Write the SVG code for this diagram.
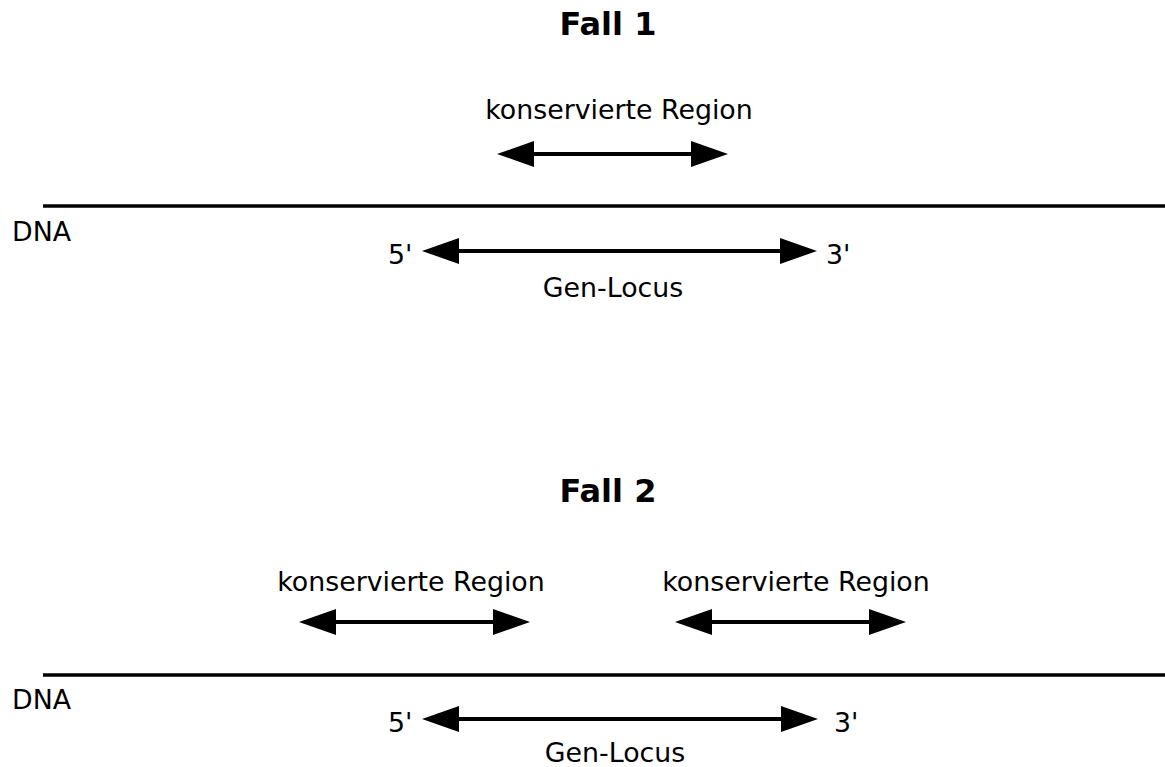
<svg xmlns="http://www.w3.org/2000/svg" width="1165" height="767" viewBox="0 0 1165 767">
<style>
text{font-family:"DejaVu Sans",sans-serif;font-size:26.8px;fill:#000}
.title{font-weight:bold;font-size:32px}
.dna{stroke:#000;stroke-width:3.5}
.arr{stroke:#000;stroke-width:4;fill:none;marker-start:url(#ah);marker-end:url(#ah)}
</style>
<defs>
<marker id="ah" markerUnits="userSpaceOnUse" markerWidth="38" markerHeight="28" refX="17" refY="13" orient="auto-start-reverse" viewBox="0 0 38 26">
<path d="M0,0 L37,13 L0,26 z" fill="#000"/>
</marker>
</defs>
<rect width="1165" height="767" fill="#fff"/>
<g id="case1">
<text class="title" x="608" y="35" text-anchor="middle">Fall 1</text>
<g id="dna1"><line class="dna" x1="43" y1="206" x2="1165" y2="206"/><text x="12" y="241">DNA</text></g>
<g id="region1"><text x="619" y="119" text-anchor="middle">konservierte Region</text></g>
<g id="locus1"><text x="388" y="264">5'</text><text x="826" y="264">3'</text><text x="613" y="297" text-anchor="middle">Gen-Locus</text></g>
</g>
<g id="case2">
<text class="title" x="608" y="502" text-anchor="middle">Fall 2</text>
<g id="dna2"><line class="dna" x1="43" y1="675" x2="1165" y2="675"/><text x="12" y="709">DNA</text></g>
<g id="region2a"><text x="411" y="591" text-anchor="middle">konservierte Region</text></g>
<g id="region2b"><text x="796" y="591" text-anchor="middle">konservierte Region</text></g>
<g id="locus2"><text x="388" y="732">5'</text><text x="834" y="732">3'</text><text x="615" y="762" text-anchor="middle">Gen-Locus</text></g>
</g>
<g id="connectors">
<line class="arr" x1="517" y1="154" x2="708" y2="154"/>
<line class="arr" x1="442" y1="251" x2="797" y2="251"/>
<line class="arr" x1="319" y1="622" x2="510" y2="622"/>
<line class="arr" x1="695" y1="622" x2="886" y2="622"/>
<line class="arr" x1="442" y1="719" x2="798" y2="719"/>
</g>
</svg>
